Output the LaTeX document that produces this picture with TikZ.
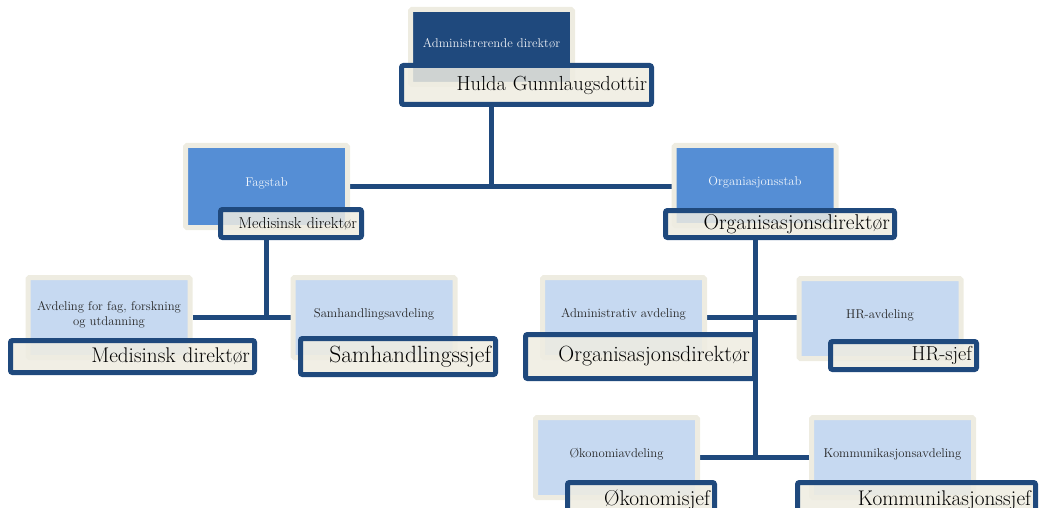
\documentclass[tikz,border=0pt]{standalone}
\usepackage{tikz}
\usetikzlibrary{backgrounds}
\definecolor{navy}{HTML}{1F497D}
\definecolor{midblue}{HTML}{558ED5}
\definecolor{paleblue}{HTML}{C6D9F1}
\definecolor{cream}{HTML}{EEECE1}

\begin{document}
\begin{tikzpicture}[x=1pt,y=-1pt,
  unitbox/.style={draw=cream,line width=5pt,rounded corners=1.5pt,
    minimum width=162pt,minimum height=80pt,align=center,inner sep=2pt,
    text depth=9pt,font=\fontsize{12.7}{15}\selectfont},
  topbox/.style={unitbox,fill=navy,text=white!92!navy},
  midbox/.style={unitbox,fill=midblue,text=white!92!midblue},
  lowbox/.style={unitbox,fill=paleblue,text=black!85},
  namebox/.style={draw=navy,line width=5pt,rounded corners=2pt,fill=cream,
    fill opacity=0.85,text opacity=1,inner xsep=4.5pt,inner ysep=0pt,
    align=right,font=\fontsize{#1}{#1}\selectfont},
  link/.style={draw=navy,line width=5pt}]
  \useasboundingbox (0,0) rectangle (1039,508);
  \clip (0,0) rectangle (1039,508);
  \node[topbox,minimum height=75pt] (adm) at (491.5,47) {Administrerende direktør};
  \node[midbox,minimum height=82pt] (fagstab) at (266.5,186.5) {Fagstab};
  \node[midbox] (orgstab) at (755,185.5) {Organiasjonsstab};
  \node[lowbox] (avd) at (109,317.5) {Avdeling for fag, forskning\\og utdanning};
  \node[lowbox] (samavd) at (374,317.5) {Samhandlingsavdeling};
  \node[lowbox] (admavd) at (623.5,317.5) {Administrativ avdeling};
  \node[lowbox] (hravd) at (880,318.5) {HR-avdeling};
  \node[lowbox] (okoavd) at (616.5,457.5) {Økonomiavdeling};
  \node[lowbox] (komavd) at (892.5,457.5) {Kommunikasjonsavdeling};
  \node[namebox=20.4,minimum width=250pt,minimum height=39pt,text width=241pt]
    (hulda) at (526.5,85) {Hulda Gunnlaugsdottir};
  \node[namebox=15.8,minimum width=141pt,minimum height=28pt,text width=132pt]
    (med1) at (291,223.5) {Medisinsk direktør};
  \node[namebox=21.4,minimum width=229pt,minimum height=27pt,text width=220pt]
    (orgdir) at (780,224) {Organisasjonsdirektør};
  \node[namebox=21.2,minimum width=244pt,minimum height=32pt,text width=235pt]
    (med2) at (132.5,356.5) {Medisinsk direktør};
  \node[namebox=23.5,minimum width=195pt,minimum height=36pt,text width=186pt]
    (samsjef) at (398,356.5) {Samhandlingssjef};
  \node[namebox=22,minimum width=229pt,minimum height=44pt,text width=220pt]
    (orgdir2) at (640,356.5) {Organisasjonsdirektør};
  \node[namebox=20.2,minimum width=146pt,minimum height=28pt,text width=137pt]
    (hrsjef) at (903.5,355.5) {HR-sjef};
  \node[namebox=21.4,minimum width=147pt,minimum height=35pt,text width=138pt]
    (okosjef) at (641,500) {Økonomisjef};
  \node[namebox=21.2,minimum width=238pt,minimum height=35pt,text width=229pt]
    (komsjef) at (916.5,500) {Kommunikasjonssjef};
  \begin{scope}[on background layer]
    \draw[link] (adm |- hulda.south) -- (adm |- fagstab.east);
    \draw[link] (fagstab.east) -- (fagstab.east -| orgstab.west);
    \draw[link] (fagstab |- med1.south) -- (fagstab |- avd.east);
    \draw[link] (avd.east) -- (samavd.west);
    \draw[link] (orgstab |- orgdir.south) -- (orgstab |- okoavd.east);
    \draw[link] (admavd.east) -- (admavd.east -| hravd.west);
    \draw[link] (okoavd.east) -- (komavd.west);
  \end{scope}
\end{tikzpicture}
\end{document}
